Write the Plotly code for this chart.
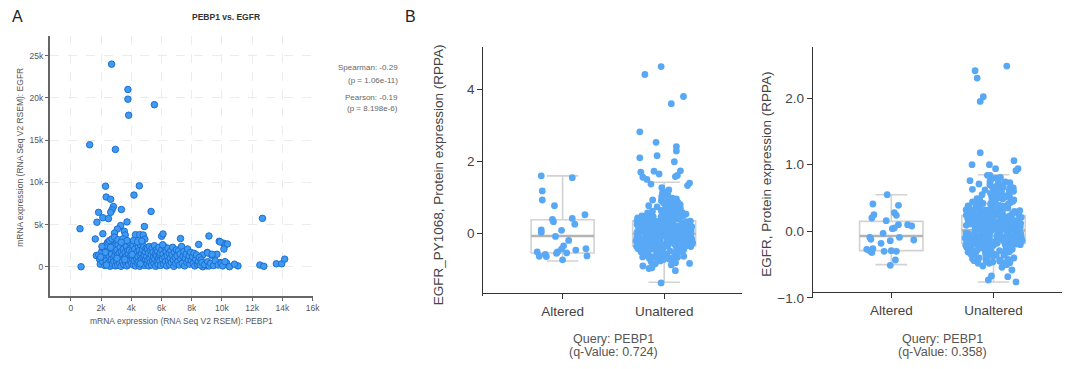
import plotly.graph_objects as go

W, H = 1070, 369

# ---------------- Panel A data: PEBP1 (x) vs EGFR (y) mRNA ----------------
pebp1_x = [
    2700, 3780, 3780, 5530, 3830, 1250, 2950,
    2300, 4530, 2340, 2640, 4180, 2820, 2730, 2640, 1840, 3350, 5310, 2120, 2490,
    1730, 610, 3720, 4870, 3300, 3080, 2120, 2890, 3540, 3600, 4280, 4560, 4790,
    4900, 6010, 6100, 7260, 8460, 9140, 9820, 10100, 10250, 10130, 12680, 1620,
    1690, 1920, 2000, 680, 2430, 2800, 3330, 3590,
    8730, 9000, 9620, 9860, 10300, 10500, 11060, 10830, 12510, 12770, 13600, 13950,
    14150, 9670, 9030, 9320, 8730, 8330, 9050, 9350, 9880, 10360,
    1850, 1900, 1950, 2050, 2100, 2150, 2200, 2250, 2300, 2350, 2400, 2450, 2500,
    2550, 2600, 2620, 2680, 2700, 2750, 2780, 2820, 2850, 2880, 2920, 2950, 2980,
    2060, 2280, 2480, 2560, 2720, 2900, 2360, 1980, 2640,
    3020, 3050, 3080, 3100, 3130, 3160, 3200, 3230, 3260, 3290, 3320, 3350, 3380,
    3410, 3440, 3470, 3500, 3530, 3560, 3590, 3620, 3650, 3680, 3710, 3740, 3770,
    3800, 3830, 3860, 3890, 3920, 3950, 3980, 3120, 3450, 3720, 3340, 3060, 3570, 3880,
    4020, 4050, 4080, 4110, 4140, 4170, 4200, 4230, 4260, 4290, 4320, 4350, 4380,
    4410, 4440, 4470, 4500, 4530, 4560, 4590, 4620, 4650, 4680, 4710, 4740, 4770,
    4800, 4830, 4860, 4890, 4920, 4950, 4980, 4150, 4420, 4700, 4060, 4600,
    5020, 5050, 5080, 5110, 5140, 5170, 5200, 5230, 5260, 5290, 5320, 5350, 5380,
    5410, 5440, 5470, 5500, 5530, 5560, 5590, 5620, 5650, 5680, 5710, 5740, 5770,
    5800, 5830, 5860, 5890, 5920, 5950,
    6020, 6060, 6100, 6140, 6180, 6220, 6260, 6300, 6340, 6380, 6420, 6460, 6500,
    6540, 6580, 6620, 6660, 6700, 6740, 6780, 6820, 6860, 6900, 6940, 6980, 6080,
    7030, 7080, 7130, 7180, 7230, 7280, 7330, 7380, 7430, 7480, 7530, 7580, 7630,
    7680, 7730, 7780, 7830, 7880, 7930, 7980,
    8050, 8100, 8150, 8200, 8260, 8320, 8380, 8440, 8500, 8560, 8620, 8680,
    8850, 9050, 9150, 9250, 9450, 9550, 9750, 9950, 10050, 10200,
]
egfr_y = [
    24000, 21000, 19850, 19200, 17950, 14450, 13900,
    9540, 9580, 8260, 7990, 8490, 7130, 6750, 6440, 6440, 6780, 6550, 5810, 5700,
    5270, 4500, 5310, 4770, 4880, 4460, 3910, 3990, 4190, 3760, 3800, 3800, 3760,
    3260, 3600, 3880, 3340, 2640, 3640, 3020, 2790, 2640, 2090, 5730, 3290,
    1320, 1310, 700, 0, 2870, 3020, 2830, 2680,
    0, 100, 300, 500, 450, 0, 100, 300, 200, 50, 350, 350,
    900, 1480, 1700, 1350, 1390, 1130, 1630, 1470, 2940, 2700,
    1400, 900, 300, 1800, 600, 2200, 1100, 150, 2500, 700, 1600, 400, 1900,
    1200, 50, 2700, 900, 1500, 300, 2100, 1000, 600, 2400, 1300, 100, 1800,
    2400, 1700, 2900, 3100, 3300, 3500, 200, 1150, 2300,
    700, 2000, 1300, 200, 2600, 900, 1600, 400, 2300, 1100, 50, 1800, 3000,
    600, 1400, 2100, 250, 1000, 2700, 1700, 500, 1200, 2400, 100, 900, 1900,
    1500, 300, 2900, 1100, 700, 2200, 1300, 3200, 3300, 3100, 2900, 1000, 850, 1950,
    400, 1800, 1000, 2500, 200, 1300, 700, 2100, 1500, 100, 2800, 900, 1700,
    450, 1200, 2300, 600, 1900, 50, 1400, 2600, 800, 1600, 300, 2000, 1100,
    500, 2400, 1300, 150, 1800, 900, 2200, 3100, 2950, 3050, 1450, 350,
    1200, 300, 2100, 800, 1600, 100, 2400, 1000, 500, 1900, 1400, 200, 2200,
    700, 1700, 1100, 400, 2500, 900, 1500, 50, 2000, 1300, 600, 1800, 250,
    1000, 2300, 1400, 700, 1600, 150,
    2000, 900, 1500, 300, 2400, 1100, 600, 1800, 100, 1300, 2200, 700, 1600,
    250, 1000, 1900, 500, 1400, 2300, 800, 50, 1700, 1100, 400, 2000, 2600,
    1300, 600, 1900, 200, 1500, 900, 2400, 400, 1200, 1800, 100, 1000, 1500,
    500, 2100, 800, 1300, 300, 1700, 700,
    1200, 400, 1600, 100, 900, 1400, 300, 600, 1100, 200, 800, 500,
    250, 600, 100, 400, 150, 700, 200, 350, 100, 600,
]

a_xticks = [0, 2000, 4000, 6000, 8000, 10000, 12000, 14000, 16000]
a_xticklabels = ["0", "2k", "4k", "6k", "8k", "10k", "12k", "14k", "16k"]
a_yticks = [0, 5000, 10000, 15000, 20000, 25000]
a_yticklabels = ["0", "5k", "10k", "15k", "20k", "25k"]

corr_lines = ["Spearman: -0.29", "(p = 1.06e-11)", "Pearson: -0.19", "(p = 8.198e-6)"]

# ---------------- Panel B data ----------------
groups = ["Altered", "Unaltered"]

# EGFR_PY1068 RPPA -- Altered samples (value, horizontal jitter)
b1_altered = [1.60, 1.55, 1.18, 0.93, 0.77, 0.39, 0.33, 0.42, 0.52, 0.26, 0.10, 0.03,
              0.09, -0.08, -0.19, -0.34, -0.43, -0.51, -0.55, -0.51, -0.63, -0.58, -0.64,
              -0.54, -0.46, -0.42, -0.62, -0.73]
b1_altered_jit = [-0.21, 0.095, -0.20, -0.20, -0.08, -0.10, -0.09, 0.095, 0.22, 0.12, -0.21, -0.21,
                  -0.01, -0.07, 0.06, 0.01, -0.01, -0.05, -0.06, -0.25, -0.23, -0.17, -0.16,
                  0.04, 0.13, 0.23, 0.24, 0.00]
# Unaltered: isolated points (with jitter) and the dense core
b1_unalt_out = [4.63, 4.41, 3.80, 3.60, 2.82, 2.53, 2.41, 2.29, 2.10, 2.16, 1.99, 1.74, 1.70, 1.73,
                1.56, 1.65, 1.58, 1.61, 1.40, 1.33, 1.50, 1.37, -1.37, -0.90, -0.97, -0.95, -1.03, -0.83]
b1_unalt_out_jit = [-0.03, -0.19, 0.19, 0.07, -0.24, -0.08, 0.12, 0.12, -0.24, -0.07, 0.10, 0.16, -0.23, -0.10,
                    -0.21, -0.05, 0.11, 0.13, 0.25, 0.23, -0.17, -0.13, -0.03, -0.21, -0.15, -0.12, 0.11, 0.25]
b1_unalt_core = [
    0.93, 1.21, 0.47, -0.12, 0.05, -0.33, 0.28, -0.58, 0.71, 0.14, -0.04, -0.21, 0.39, -0.47, 0.82, 0.02, -0.15, 0.33, -0.69, 0.11,
    -0.26, 0.56, -0.08, 0.19, -0.41, 1.08, -0.02, 0.24, -0.36, 0.63, -0.18, 0.07, -0.55, 0.45, -0.11, 0.31, -0.79, 0.16, -0.29, 0.88,
    -0.06, 0.37, -0.44, 0.09, -0.23, 0.52, -0.63, 0.21, -0.01, 0.77, -0.38, 0.13, -0.17, 0.42, -0.51, 0.04, -0.31, 0.96, -0.09, 0.26,
    -0.72, 0.35, -0.14, 0.58, -0.27, 0.01, -0.48, 0.18, -0.05, 0.67, -0.35, 0.29, -0.84, 0.08, -0.2, 0.49, -0.6, 0.12, -0.03, 0.85,
    -0.39, 0.22, -0.13, 0.41, -0.53, 0.06, -0.25, 1.15, -0.07, 0.33, -0.66, 0.15, -0.3, 0.6, -0.45, 0.03, -0.19, 0.74, -0.1, 0.27,
    -0.57, 0.38, -0.22, 0.1, -0.76, 0.5, -0.34, 0.0, -0.16, 0.69, -0.42, 0.2, -0.04, 0.91, -0.28, 0.32, -0.62, 0.14, -0.11, 0.44,
    -0.5, 0.05, -0.24, 1.02, -0.08, 0.36, -0.7, 0.17, -0.32, 0.55, -0.46, 0.07, -0.15, 0.8, -0.37, 0.25, -0.02, 0.47, -0.58, 0.11,
    -0.21, 0.64, -0.12, 0.3, -0.81, 0.09, -0.4, 1.27, -0.06, 0.4, -0.52, 0.19, -0.27, 0.53, -0.65, 0.02, -0.17, 0.72, -0.33, 0.23,
    -0.09, 0.98, -0.44, 0.13, -0.74, 0.34, -0.23, 0.46, -0.56, 0.04, -0.14, 0.62, -0.3, 0.28, -0.01, 0.86, -0.49, 0.16, -0.36, 0.57,
    -0.68, 0.08, -0.19, 0.43, -0.05, 1.12, -0.26, 0.21, -0.6, 0.37, -0.11, 0.66, -0.43, 0.12, -0.87, 0.03, -0.29, 0.51, -0.07, 0.31,
    0.15, -0.22, 0.48, -0.06, 0.27, -0.41, 0.09, 0.61, -0.13, 0.34, -0.29, 0.02, 0.78, -0.52, 0.19, -0.09, 0.42, -0.35, 0.11, 0.54,
    -0.18, 0.06, -0.64, 0.31, -0.02, 0.87, -0.25, 0.16, -0.45, 0.39, 0.0, -0.12, 0.57, -0.31, 0.22, -0.71, 0.08, 0.46, -0.19, 0.13,
    0.69, -0.38, 0.04, -0.07, 0.29, -0.54, 0.18, 0.95, -0.16, 0.36, -0.27, 0.1, -0.47, 0.52, -0.03, 0.24, -0.59, 0.07, 0.41, -0.21,
    0.14, -0.33, 0.63, -0.1, 0.2, -0.43, 0.03, 0.75, -0.24, 0.32, -0.67, 0.12, -0.05, 0.45, -0.36, 0.17, 0.58, -0.14, 0.26, -0.49,
]
b1_q1 = [-0.54, -0.35]
b1_median = [-0.07, -0.01]
b1_q3 = [0.38, 0.35]
b1_low = [-0.76, -1.35]
b1_high = [1.60, 1.42]

# EGFR RPPA
b2_altered = [0.55, 0.41, 0.39, 0.25, 0.20, 0.28, 0.24, 0.16, 0.04, 0.05, 0.10, 0.10,
              0.08, -0.09, -0.12, -0.03, -0.09, -0.14, -0.13, -0.18, -0.27, -0.29, -0.26,
              -0.32, -0.30, -0.29, -0.30, -0.43, -0.51]
b2_altered_jit = [-0.04, -0.18, 0.07, -0.17, -0.19, 0.03, 0.05, -0.05, 0.01, 0.03, 0.07, 0.16,
                  0.20, -0.21, -0.20, -0.08, 0.08, -0.01, 0.22, -0.10, -0.24, -0.21, -0.18,
                  -0.19, -0.07, 0.00, 0.05, 0.04, -0.01]
b2_unalt_out = [2.48, 2.41, 2.30, 2.02, 1.95, 1.18, 1.00, 1.06, 1.00, 0.94, 0.94, 0.91, 0.76, 0.84,
                -0.73, -0.67, -0.68, -0.76, -0.58, -0.47, -0.44]
b2_unalt_out_jit = [0.13, -0.18, -0.16, -0.10, -0.13, -0.13, -0.21, 0.20, -0.04, 0.02, 0.24, 0.22, -0.23, -0.06,
                    -0.05, -0.02, 0.14, 0.22, 0.18, 0.16, -0.19]
b2_unalt_core = [
    0.52, -0.08, 0.17, -0.31, 0.04, 0.66, -0.15, 0.29, -0.42, 0.09, -0.02, 0.38, -0.22, 0.13, 0.78, -0.11, 0.24, -0.36, 0.06, 0.47,
    -0.05, 0.19, -0.27, 0.58, 0.01, -0.18, 0.33, -0.48, 0.11, 0.71, -0.09, 0.22, -0.33, 0.03, 0.43, -0.14, 0.27, -0.25, 0.62, 0.08,
    -0.2, 0.15, -0.39, 0.36, -0.03, 0.81, -0.12, 0.21, -0.29, 0.05, 0.49, -0.07, 0.31, -0.45, 0.12, 0.69, -0.16, 0.25, -0.01, 0.4,
    -0.24, 0.1, -0.52, 0.56, 0.02, -0.13, 0.34, -0.35, 0.18, 0.74, -0.06, 0.28, -0.21, 0.07, 0.45, -0.1, 0.2, -0.41, 0.63, 0.0,
    -0.17, 0.32, -0.3, 0.14, 0.53, -0.04, 0.23, -0.26, 0.09, 0.84, -0.19, 0.37, -0.46, 0.04, 0.59, -0.08, 0.26, -0.34, 0.16, 0.42,
    -0.12, 0.11, -0.23, 0.68, 0.03, -0.15, 0.3, -0.5, 0.19, 0.48, -0.02, 0.24, -0.28, 0.08, 0.77, -0.09, 0.35, -0.38, 0.13, 0.55,
    -0.05, 0.18, -0.21, 0.06, 0.44, -0.14, 0.29, -0.43, 0.1, 0.64, -0.11, 0.22, -0.32, 0.01, 0.5, -0.07, 0.33, -0.25, 0.15, 0.72,
    -0.18, 0.07, -0.37, 0.39, -0.03, 0.26, -0.54, 0.12, 0.6, -0.1, 0.2, -0.27, 0.05, 0.46, -0.16, 0.31, -0.4, 0.17, 0.8, -0.06,
    0.25, -0.2, 0.09, 0.57, -0.13, 0.36, -0.33, 0.02, 0.41, -0.08, 0.21, -0.47, 0.14, 0.66, -0.04, 0.28, -0.24, 0.11, 0.51, -0.15,
    0.19, -0.3, 0.07, 0.75, -0.01, 0.34, -0.42, 0.16, 0.43, -0.12, 0.23, -0.36, 0.04, 0.61, -0.09, 0.27, -0.22, 0.13, 0.38, -0.19,
    0.21, -0.11, 0.06, 0.44, -0.24, 0.13, -0.04, 0.58, -0.31, 0.17, 0.02, -0.16, 0.36, -0.43, 0.09, 0.67, -0.08, 0.25, -0.2, 0.11,
    0.49, -0.02, 0.3, -0.37, 0.04, 0.73, -0.13, 0.19, -0.27, 0.08, 0.41, -0.06, 0.22, -0.48, 0.15, 0.55, -0.1, 0.32, -0.19, 0.01,
    0.62, -0.15, 0.27, -0.34, 0.12, 0.46, -0.03, 0.18, -0.23, 0.07, 0.7, -0.12, 0.35, -0.4, 0.14, 0.52, -0.07, 0.24, -0.29, 0.03,
    0.39, -0.17, 0.2, -0.45, 0.1, 0.6, -0.05, 0.29, -0.21, 0.16, 0.47, -0.09, 0.23, -0.32, 0.05, 0.65, -0.14, 0.33, -0.26, 0.12,
]
b2_q1 = [-0.29, -0.18]
b2_median = [-0.07, 0.015]
b2_q3 = [0.15, 0.235]
b2_low = [-0.50, -0.76]
b2_high = [0.55, 0.85]

b1_ylabel = "EGFR_PY1068, Protein expression (RPPA)"
b2_ylabel = "EGFR, Protein expression (RPPA)"
b1_query = ["Query: PEBP1", "(q-Value: 0.724)"]
b2_query = ["Query: PEBP1", "(q-Value: 0.358)"]

# ---------------- helpers ----------------
def px(x):
    return x / W


def py(y):
    return 1 - y / H


FONT = "Liberation Sans, Arial, sans-serif"
PT_COLOR = "#58a8f5"
BOX_COLOR = "#d2d2d2"
MED_COLOR = "#b4b4b4"
PT_SIZE = 6.8
gpos = list(range(len(groups)))  # group positions on the linear x axis

fig = go.Figure()

# Panel A scatter
fig.add_trace(go.Scatter(
    x=pebp1_x, y=egfr_y, mode="markers", xaxis="x", yaxis="y",
    marker=dict(size=6.5, color="#3f9af2", line=dict(color="#1c6fd2", width=1)),
    hoverinfo="skip", showlegend=False,
))


def add_boxes(xa, ya, q1, med, q3, low, high, alt, alt_jit, out, out_jit, core):
    fig.add_trace(go.Box(
        x=gpos, q1=q1, median=med, q3=q3, lowerfence=low, upperfence=high,
        xaxis=xa, yaxis=ya, width=0.62, whiskerwidth=0.5, boxpoints=False,
        line=dict(color=BOX_COLOR, width=1.6), fillcolor="rgba(255,255,255,0)",
        hoverinfo="skip", showlegend=False,
    ))
    fig.add_trace(go.Box(
        x=gpos, q1=med, median=med, q3=med, lowerfence=med, upperfence=med,
        xaxis=xa, yaxis=ya, width=0.62, whiskerwidth=0, boxpoints=False,
        line=dict(color=MED_COLOR, width=2.6), fillcolor="rgba(255,255,255,0)",
        hoverinfo="skip", showlegend=False,
    ))
    # dense core of the unaltered group: jittered by the library
    fig.add_trace(go.Box(
        x=[gpos[1]] * len(core), y=core, xaxis=xa, yaxis=ya, width=0.56,
        boxpoints="all", jitter=1, pointpos=0, whiskerwidth=0,
        line=dict(color="rgba(0,0,0,0)", width=0), fillcolor="rgba(0,0,0,0)",
        marker=dict(color=PT_COLOR, size=PT_SIZE, line=dict(width=0)),
        hoverinfo="skip", showlegend=False,
    ))
    # altered points and isolated unaltered points, with their read jitter
    fig.add_trace(go.Scatter(
        x=[gpos[0] + j for j in alt_jit] + [gpos[1] + j for j in out_jit],
        y=alt + out, mode="markers", xaxis=xa, yaxis=ya,
        marker=dict(color=PT_COLOR, size=PT_SIZE, line=dict(width=0)),
        hoverinfo="skip", showlegend=False,
    ))


add_boxes("x2", "y2", b1_q1, b1_median, b1_q3, b1_low, b1_high,
          b1_altered, b1_altered_jit, b1_unalt_out, b1_unalt_out_jit, b1_unalt_core)
add_boxes("x3", "y3", b2_q1, b2_median, b2_q3, b2_low, b2_high,
          b2_altered, b2_altered_jit, b2_unalt_out, b2_unalt_out_jit, b2_unalt_core)

a_tickfont = dict(family=FONT, size=8.5, color="#555")
b_tickfont = dict(family=FONT, size=13.5, color="#444")

layout = dict(
    width=W, height=H, margin=dict(l=0, r=0, t=0, b=0),
    paper_bgcolor="white", plot_bgcolor="white", boxmode="overlay",
    showlegend=False, font=dict(family=FONT),
    xaxis=dict(
        domain=[px(50), px(315)], range=[-1400, 16000], anchor="y",
        tickvals=a_xticks, ticktext=a_xticklabels, tickfont=a_tickfont,
        showline=True, linecolor="#666", linewidth=1.5, ticks="outside", ticklen=3,
        tickcolor="#666", showgrid=True, gridcolor="#ececec", griddash="dash",
        gridwidth=1, zeroline=False,
    ),
    yaxis=dict(
        domain=[py(302), py(37)], range=[-3500, 27300], anchor="x",
        tickvals=a_yticks, ticktext=a_yticklabels, tickfont=a_tickfont,
        showline=True, linecolor="#666", linewidth=1.5, ticks="outside", ticklen=3,
        tickcolor="#666", showgrid=True, gridcolor="#ececec", griddash="dash",
        gridwidth=1, zeroline=False,
    ),
    xaxis2=dict(
        domain=[px(487), px(748)], range=[-0.78, 1.77], anchor="free", position=py(299),
        tickvals=gpos, ticktext=groups,
        tickfont=b_tickfont, showline=True, linecolor="#333", linewidth=1.3,
        ticks="outside", ticklen=5, tickcolor="#333", showgrid=False, zeroline=False,
    ),
    yaxis2=dict(
        domain=[py(302), py(48)], range=[-1.74, 5.17], anchor="x2",
        tickvals=[0, 2, 4], tickfont=b_tickfont, showline=True, linecolor="#333",
        linewidth=1.3, ticks="outside", ticklen=5, tickcolor="#333",
        showgrid=False, zeroline=False,
    ),
    xaxis3=dict(
        domain=[px(819), 1.0], range=[-0.767, 1.67], anchor="free", position=py(298),
        tickvals=gpos, ticktext=groups,
        tickfont=b_tickfont, showline=True, linecolor="#333", linewidth=1.3,
        ticks="outside", ticklen=5, tickcolor="#333", showgrid=False, zeroline=False,
    ),
    yaxis3=dict(
        domain=[py(304), py(48)], range=[-1.004, 2.765], anchor="x3",
        tickvals=[-1, 0, 1, 2], tickformat=".1f", tickfont=b_tickfont, showline=True,
        linecolor="#333", linewidth=1.3, ticks="outside", ticklen=5, tickcolor="#333",
        showgrid=False, zeroline=False,
    ),
)

ann = []


def note(text, x, y, size, color="#444", xanchor="center", yanchor="middle", angle=0, family=FONT):
    ann.append(dict(text=text, x=px(x), y=py(y), xref="paper", yref="paper",
                    showarrow=False, xanchor=xanchor, yanchor=yanchor, textangle=angle,
                    borderpad=0, font=dict(family=family, size=size, color=color)))


note("A", 11, 17, 16, "#222", xanchor="left", family="Liberation Sans Narrow, Liberation Sans, Arial")
note("B", 407, 17, 16, "#222", xanchor="left", family="Liberation Sans Narrow, Liberation Sans, Arial")
note("<b>PEBP1 vs. EGFR</b>", 228, 17.5, 8.5, "#333")
for t, yy in zip(corr_lines, [69, 82, 99, 111]):
    note(t, 402, yy, 8, "#666", xanchor="right")
note("mRNA expression (RNA Seq V2 RSEM): EGFR", 20, 160, 8.5, "#555", angle=-90)
note("mRNA expression (RNA Seq V2 RSEM): PEBP1", 183, 327, 8.5, "#555")
note(b1_ylabel, 442, 178, 13.5, "#444", angle=-90)
note(b2_ylabel, 772, 178, 13.5, "#444", angle=-90)
for qx, lines in [(618, b1_query), (950, b2_query)]:
    note(lines[0], qx, 346, 12.5, "#555")
    note(lines[1], qx, 359, 12.5, "#555")

layout["annotations"] = ann
fig.update_layout(**layout)
fig.write_html("out.html")
